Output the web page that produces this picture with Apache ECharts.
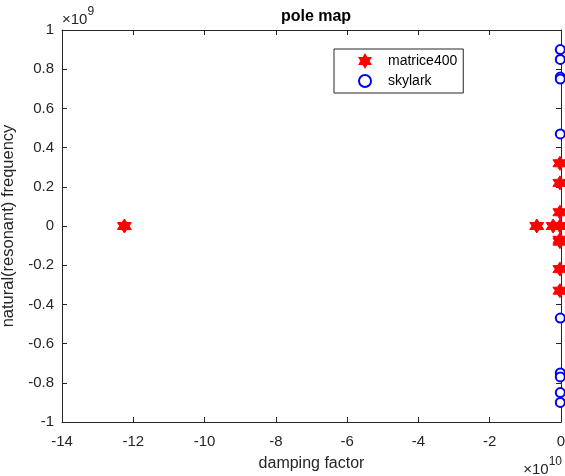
<!DOCTYPE html>
<html>
<head>
<meta charset="utf-8">
<script src="https://cdn.jsdelivr.net/npm/echarts@6/dist/echarts.min.js"></script>
<style>
  html, body { margin: 0; padding: 0; background: #fff; }
  #chart { width: 565px; height: 476px; }
</style>
</head>
<body>
<div id="chart"></div>
<script>
  // x in units of 1e10, y in units of 1e9
  var matriceX = [-12.25, -0.68, -0.22, -0.03, -0.03, -0.03, -0.03, -0.03, -0.03, -0.03, -0.03];
  var matriceY = [0, 0, 0, 0, 0.32, 0.22, 0.07, -0.08, -0.07, -0.22, -0.33];
  var skylarkX = [-0.02, -0.02, -0.02, -0.02, -0.02, -0.02, -0.02, -0.02, -0.02, -0.02];
  var skylarkY = [0.9, 0.85, 0.76, 0.75, 0.47, -0.47, -0.75, -0.77, -0.85, -0.9];

  var hexagram = 'path://M0,-10 L2.887,-5 L8.66,-5 L5.774,0 L8.66,5 L2.887,5 L0,10 L-2.887,5 L-8.66,5 L-5.774,0 L-8.66,-5 L-2.887,-5 Z';
  var font = 'Liberation Sans';

  function pairs(xs, ys) {
    return xs.map(function (x, i) { return [x, ys[i]]; });
  }

  var tickStyle = { show: true, inside: true, length: 5, lineStyle: { color: '#262626' } };
  var lineStyle = { show: true, onZero: false, lineStyle: { color: '#262626', width: 1 } };
  var expRich = {
    a: { fontFamily: font, fontSize: 15, fill: '#262626', padding: [6, 0, 0, 0] },
    b: { fontFamily: font, fontSize: 12, fill: '#262626', verticalAlign: 'top' }
  };

  var chart = echarts.init(document.getElementById('chart'));
  chart.setOption({
    animation: false,
    title: {
      text: 'pole map',
      left: 311, top: 4, textAlign: 'center',
      textStyle: { fontFamily: font, fontSize: 16, fontWeight: 'bold', color: '#000' }
    },
    legend: {
      left: 334, top: 49, orient: 'vertical',
      padding: [5, 6, 5, 24],
      itemGap: 6,
      itemWidth: 12, itemHeight: 12,
      backgroundColor: '#fff',
      borderColor: '#262626', borderWidth: 1,
      textStyle: { fontFamily: font, fontSize: 14, color: '#000', padding: [0, 6, 0, 12] },
      data: ['matrice400', 'skylark']
    },
    grid: { left: 62, right: 4, top: 30, bottom: 54, show: false, outerBoundsMode: 'none' },
    xAxis: [{
      type: 'value', min: -14, max: 0, interval: 2,
      name: 'damping factor', nameLocation: 'middle', nameGap: 34,
      nameTextStyle: { fontFamily: font, fontSize: 16, color: '#262626' },
      axisLine: lineStyle, axisTick: tickStyle, splitLine: { show: false },
      axisLabel: { fontFamily: font, fontSize: 15, color: '#262626', margin: 12 }
    }, {
      type: 'value', min: -14, max: 0, interval: 2, position: 'top',
      axisLine: lineStyle, axisTick: tickStyle, splitLine: { show: false },
      axisLabel: { show: false }
    }],
    yAxis: [{
      type: 'value', min: -1, max: 1, interval: 0.2,
      name: 'natural(resonant) frequency', nameLocation: 'middle', nameGap: 38,
      nameTextStyle: { fontFamily: font, fontSize: 16.5, color: '#262626' },
      axisLine: lineStyle, axisTick: tickStyle, splitLine: { show: false },
      axisLabel: {
        fontFamily: font, fontSize: 15, color: '#262626', margin: 8,
        formatter: function (v) { return String(Math.round(v * 10) / 10); }
      }
    }, {
      type: 'value', min: -1, max: 1, interval: 0.2, position: 'right',
      axisLine: lineStyle, axisTick: tickStyle, splitLine: { show: false },
      axisLabel: { show: false }
    }],
    graphic: [{
      type: 'text', left: 62, top: 6,
      style: { text: '{a|×10}{b|9}', rich: expRich }
    }, {
      type: 'text', right: 3, top: 456,
      style: { text: '{a|×10}{b|10}', rich: expRich }
    }],
    series: [{
      name: 'matrice400', type: 'scatter',
      symbol: hexagram, symbolSize: 14,
      itemStyle: { color: '#ff0000', borderColor: '#ff0000', borderWidth: 1, opacity: 1 },
      data: pairs(matriceX, matriceY)
    }, {
      name: 'skylark', type: 'scatter',
      symbol: 'emptyCircle', symbolSize: 9,
      itemStyle: { color: '#0000ff', borderColor: '#0000ff', borderWidth: 2.5, opacity: 1 },
      data: pairs(skylarkX, skylarkY)
    }]
  });
</script>
</body>
</html>
